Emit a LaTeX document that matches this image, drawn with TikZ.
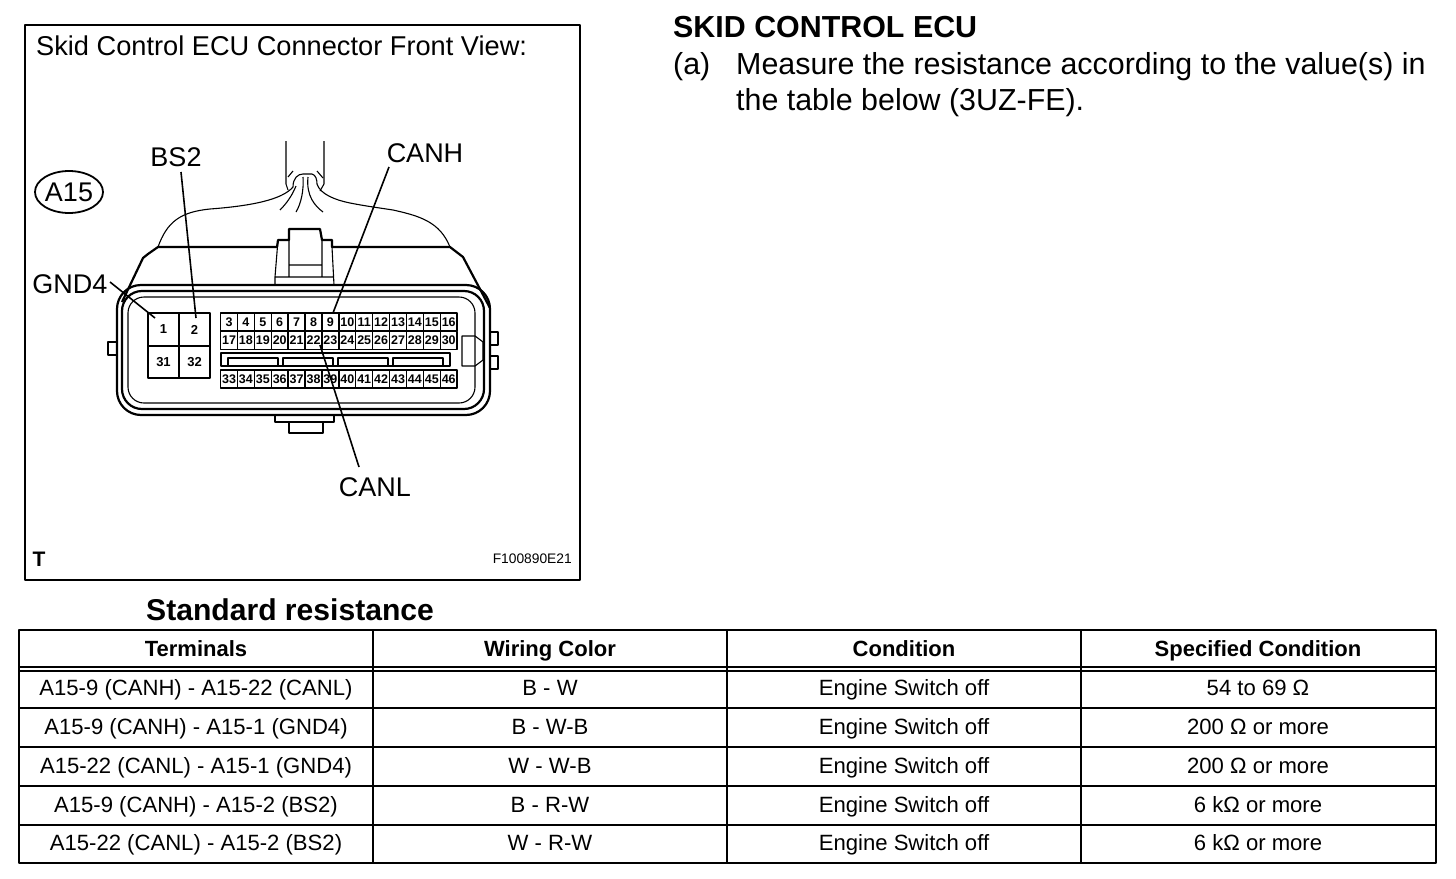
\documentclass[tikz,border=0pt]{standalone}
\usepackage{fontspec}
\usetikzlibrary{shapes.geometric}
\setmainfont{Liberation Sans}
\newcommand\FS[1]{\fontsize{#1}{#1}\selectfont}
\begin{document}
\begin{tikzpicture}[x=1pt,y=-1pt,line join=round]
    \tikzstyle{txt}=[inner sep=0pt, text=black, text height=24pt, text depth=4.5pt, font=\FS{27}]
    \tikzstyle{head}=[inner sep=0pt, text=black, text height=24pt, text depth=4pt, font=\FS{30.4}]
    \tikzstyle{cell}=[inner sep=0pt, text=black, text height=18pt, text depth=4pt, font=\FS{22.1}]
    \tikzstyle{hcell}=[inner sep=0pt, text=black, text height=18pt, text depth=4pt, font=\FS{22}\bfseries]
    \tikzstyle{pin}=[draw=black, line width=1.4pt, inner sep=0pt, minimum width=16.9pt, minimum height=18pt, font=\FS{12.5}\bfseries]
    \tikzstyle{bigpin}=[draw=black, line width=1.6pt, inner sep=0pt, minimum width=31pt, minimum height=32.5pt, font=\FS{13}\bfseries]
    \tikzstyle{body}=[line width=2.2pt, black]
    \tikzstyle{thin}=[line width=1.1pt, black]
    \tikzstyle{lead}=[line width=1.6pt, black]

    \useasboundingbox (0,0) rectangle (1456,878);
    \fill[white] (0,0) rectangle (1456,878);

    % picture frame
    \draw[line width=1.8pt] (25,25) rectangle (580,580);
    \node[txt,font=\FS{27.2},anchor=west] (title) at (36,46) {Skid Control ECU Connector Front View:};
    \node[draw=black,line width=1.8pt,ellipse,minimum width=68pt,minimum height=42pt,inner sep=0pt,font=\FS{27}] (a15) at (69,192) {A15};
    \node[inner sep=0pt,font=\FS{21}\bfseries] (tee) at (39,559) {T};
    \node[inner sep=0pt,font=\FS{13.8},anchor=east] (code) at (572,559) {F100890E21};

    % connector shell
    \draw[body,rounded corners=24pt] (300,285) -- (117,285) -- (117,415) -- (490,415) -- (490,285) -- cycle;
    \draw[body,rounded corners=20pt] (300,291) -- (122,291) -- (122,409) -- (484,409) -- (484,291) -- cycle;
    \draw[thin,rounded corners=16pt] (300,297) -- (128,297) -- (128,403) -- (475,403) -- (475,297) -- cycle;
    % hood
    \draw[body] (122,302) -- (143,258) -- (148,254) -- (158,247) -- (277,247) -- (278,240) -- (289,240) -- (289,229)
      -- (320,229) -- (322,240) -- (332,240) -- (332,247) -- (450,247) -- (463,257) -- (490,308);
    \draw[thin] (275,285) -- (275,277) -- (334,277) (278,240) -- (275,277) (289,240) -- (289,277) (322,240) -- (322,277)
      (289,265) -- (322,265) (332,247) -- (334,285);
    % side tabs
    \draw[body] (117,342) -- (108,342) -- (108,355) -- (117,355);
    \draw[body] (491,332) -- (498,332) -- (498,345) -- (491,345);
    \draw[body] (491,356) -- (498,356) -- (498,369) -- (491,369);
    \draw[body] (275,415) -- (275,422) -- (334,422) -- (334,415) (289,422) -- (289,433) -- (323,433) -- (323,422);
    \draw[thin] (475,336) -- (462,336) -- (462,366) -- (475,366) -- (483,360) -- (483,342) -- cycle;
    % wires
    \draw[thin] (286,141) -- (286,184) -- (288,190) (324,141) -- (324,184) -- (320,191);
    \draw[thin] (288,177) -- (293,171) (317,171) -- (323,178);
    \draw[thin] (158,247) .. controls (167,222) and (180,212) .. (210,209) .. controls (250,206) and (282,200) .. (293,187)
      .. controls (293,178) and (298,174) .. (303,174) -- (312,174) .. controls (316,175) and (317,180) .. (317,184)
      .. controls (320,194) and (335,200) .. (350,203) .. controls (365,206) and (380,208) .. (393,210)
      .. controls (420,216) and (440,222) .. (450,247);
    \draw[thin] (280,210) .. controls (286,204) and (292,196) .. (296,186);
    \draw[thin] (296,212) .. controls (301,204) and (304,190) .. (303,177);
    \draw[thin] (323,212) .. controls (315,206) and (306,196) .. (308,177);

    % pins
    \node[bigpin] (pin1)  at (163.5,329.5) {1};
    \node[bigpin] (pin2)  at (194.5,329.5) {2};
    \node[bigpin] (pin31) at (163.5,362)   {31};
    \node[bigpin] (pin32) at (194.5,362)   {32};
    \foreach \i in {0,...,13} {
      \pgfmathtruncatemacro\na{\i+3}
      \pgfmathtruncatemacro\nb{\i+17}
      \pgfmathtruncatemacro\nc{\i+33}
      \node[pin] (pin\na) at (229+16.9*\i,322) {\na};
      \node[pin] (pin\nb) at (229+16.9*\i,340.5) {\nb};
      \node[pin] (pin\nc) at (229+16.9*\i,379) {\nc};
    }
    % slot band
    \draw[body,line width=1.6pt] (221,366) -- (221,353) -- (450,353) -- (450,366) -- cycle;
    \foreach \sx/\ex in {228/278,283/333,338/388,393/443} {
      \draw[thin] (\sx,365) -- (\sx,358) -- (\ex,358) -- (\ex,365);
    }

    % terminal labels
    \node[txt] (bs2)  at (176,157) {BS2};
    \node[txt] (canh) at (425,153) {CANH};
    \node[txt] (gnd4) at (70,284)  {GND4};
    \node[txt] (canl) at (375,487) {CANL};
    \coordinate (bs2e)  at (181,172);
    \coordinate (canhe) at (389,167);
    \coordinate (gnd4e) at (110,282);
    \coordinate (canle) at (359,467);
    \coordinate (pin2e)  at (196,318);
    \coordinate (pin9e)  at (333,313);
    \coordinate (pin1e)  at (155,318);
    \coordinate (pin22e) at (320,345);
    \path[lead]
     (bs2e)  edge[] (pin2e)
     (canhe) edge[] (pin9e)
     (gnd4e) edge[] (pin1e)
     (canle) edge[] (pin22e)
     ;

    % heading text
    \node[head,font=\FS{30.4}\bfseries,anchor=west] (skid) at (673,27) {SKID CONTROL ECU};
    \node[head,anchor=west] (stepa) at (673,64) {(a)};
    \node[head,anchor=west] (line1) at (736,64) {Measure the resistance according to the value(s) in};
    \node[head,anchor=west] (line2) at (736,100) {the table below (3UZ-FE).};
    \node[head,font=\FS{30.1}\bfseries,anchor=west] (std) at (146,610) {Standard resistance};

    % table
    \draw[line width=2.8pt] (19,630) rectangle (1436,863);
    \foreach \cx in {373,727,1081} {\draw[line width=2.2pt] (\cx,630) -- (\cx,863);}
    \draw[line width=2.2pt] (19,667) -- (1436,667) (19,671) -- (1436,671);
    \foreach \ry in {708,747,786,825} {\draw[line width=1.8pt] (19,\ry) -- (1436,\ry);}
    \node[hcell] (h1) at (196,649)  {Terminals};
    \node[hcell] (h2) at (550,649)  {Wiring Color};
    \node[hcell] (h3) at (904,649)  {Condition};
    \node[hcell] (h4) at (1258,649) {Specified Condition};
    \foreach \n/\ry/\ca/\cb/\cc in {
      1/688/A15-9 (CANH) - A15-22 (CANL)/B - W/54 to 69 Ω,
      2/727/A15-9 (CANH) - A15-1 (GND4)/B - W-B/200 Ω or more,
      3/766/A15-22 (CANL) - A15-1 (GND4)/W - W-B/200 Ω or more,
      4/805/A15-9 (CANH) - A15-2 (BS2)/B - R-W/6 kΩ or more,
      5/843/A15-22 (CANL) - A15-2 (BS2)/W - R-W/6 kΩ or more} {
      \node[cell] (r\n a) at (196,\ry)  {\ca};
      \node[cell] (r\n b) at (550,\ry)  {\cb};
      \node[cell] (r\n c) at (904,\ry)  {Engine Switch off};
      \node[cell] (r\n d) at (1258,\ry) {\cc};
    }
\end{tikzpicture}
\end{document}
